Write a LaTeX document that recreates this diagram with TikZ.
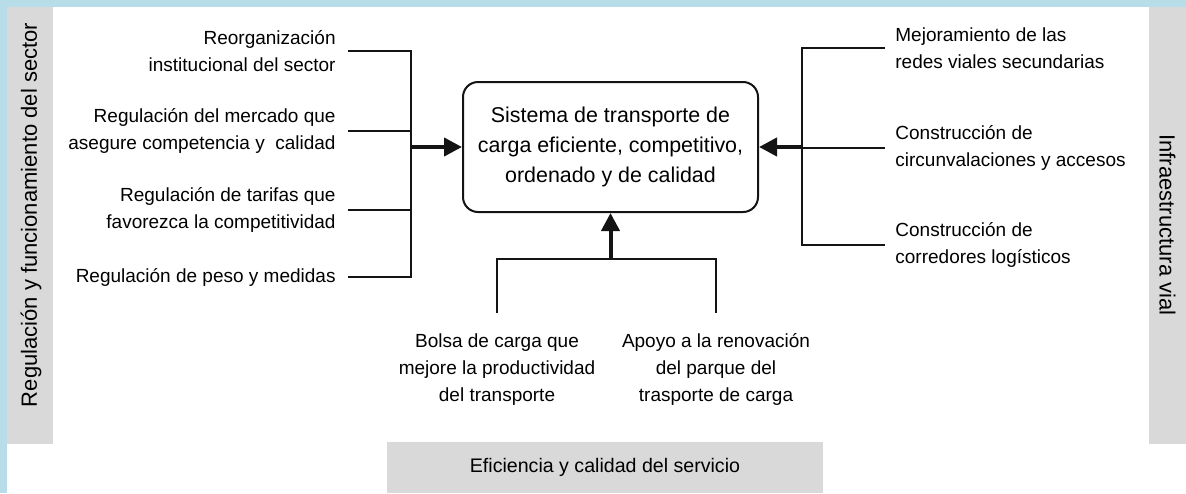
\documentclass[tikz,border=0pt]{standalone}
\usepackage{fontspec}
\setmainfont{Liberation Sans}
\usetikzlibrary{arrows.meta, positioning, calc}
\definecolor{cFrame}{RGB}{183, 222, 232}
\definecolor{cPanel}{RGB}{217, 217, 217}
\definecolor{lineColor}{RGB}{20, 20, 20}
\tikzset{
    font=\fontsize{9.5}{13.5}\selectfont,
    % caja central
    goalBox/.style={
        draw=lineColor, line width=1pt, rounded corners=7.5pt,
        align=center, minimum width=147.5pt, minimum height=65pt,
        font=\fontsize{10.7}{15}\selectfont
    },
    % paneles grises
    panel/.style={fill=cPanel, inner sep=0pt, font=\fontsize{11}{13}\selectfont},
    panelText/.style={inner sep=0pt, font=\fontsize{11}{13}\selectfont},
    % textos de las acciones
    leftText/.style={align=right, anchor=east, inner xsep=6pt},
    rightText/.style={align=left, anchor=west, inner xsep=5pt},
    downText/.style={align=center, anchor=north, inner ysep=10pt},
    link/.style={draw=lineColor, line width=1pt},
    conn/.style={draw=lineColor, line width=2pt, -{Triangle[length=9pt, width=9pt]}}
}
\begin{document}
\begin{tikzpicture}[x=0.5pt, y=-0.5pt]

	% ==========================================
	% fondo y paneles
	% ==========================================
	\fill [cFrame] (0,0) rectangle (1186,493);
	\fill [white] (7,7) rectangle (1186,493);
	\useasboundingbox (0,0) rectangle (1186,493);

	\node [panel, rotate=90, minimum width=218.5pt, minimum height=23pt] (pRegul) at (30,225) {};
	\node [panelText, rotate=90] (tRegul) at (31,215) {Regulación y funcionamiento del sector};
	\node [panel, rotate=-90, minimum width=218.5pt, minimum height=18.5pt] (pInfra) at (1167.5,225) {Infraestructura vial};
	\node [panel, font=\fontsize{9.8}{12}\selectfont, minimum width=218pt, minimum height=25.5pt] (pEfic) at (605,467.5) {Eficiencia y calidad del servicio};

	% ==========================================
	% objetivo central
	% ==========================================
	\node [goalBox] (goal) at (610.5,147) {
		Sistema de transporte de\\
		carga eficiente, competitivo,\\
		ordenado y de calidad
	};

	\coordinate (leftBus) at ($(goal.west)+(-51,0)$);
	\coordinate (rightBus) at ($(goal.east)+(43,0)$);
	\coordinate (bottomBus) at ($(goal.south)+(0,46)$);

	% ==========================================
	% regulacion (izquierda)
	% ==========================================
	\node [leftText] (reorg) at (348,51) {Reorganización\\ institucional del sector};
	\node [leftText] (mercado) at (348,131) {Regulación del mercado que\\ asegure competencia y\ \ calidad};
	\node [leftText] (tarifas) at (348,210) {Regulación de tarifas que\\ favorezca la competitividad};
	\node [leftText] (peso) at (348,277) {Regulación de peso y medidas};

	\draw [link] (reorg.east) -| (leftBus);
	\draw [link] (mercado.east) -- (mercado.east -| leftBus);
	\draw [link] (tarifas.east) -- (tarifas.east -| leftBus);
	\draw [link] (peso.east) -| (leftBus);
	\draw [conn] (leftBus) -- (goal.west);

	% ==========================================
	% infraestructura (derecha)
	% ==========================================
	\node [rightText] (redes) at (885,48) {Mejoramiento de las\\ redes viales secundarias};
	\node [rightText] (circun) at (885,148) {Construcción de\\ circunvalaciones y accesos};
	\node [rightText] (corred) at (885,245) {Construcción de\\ corredores logísticos};

	\draw [link] (redes.west) -| (rightBus);
	\draw [link] (circun.west) -- (circun.west -| rightBus);
	\draw [link] (corred.west) -| (rightBus);
	\draw [conn] (rightBus) -- (goal.east);

	% ==========================================
	% servicio (abajo)
	% ==========================================
	\node [downText] (bolsa) at (497,313) {Bolsa de carga que\\ mejore la productividad\\ del transporte};
	\node [downText] (apoyo) at (716,313) {Apoyo a la renovación\\ del parque del\\ trasporte de carga};

	\draw [link] (bolsa.north) |- (bottomBus);
	\draw [link] (apoyo.north) |- (bottomBus);
	\draw [conn] (bottomBus) -- (goal.south);

\end{tikzpicture}
\end{document}
